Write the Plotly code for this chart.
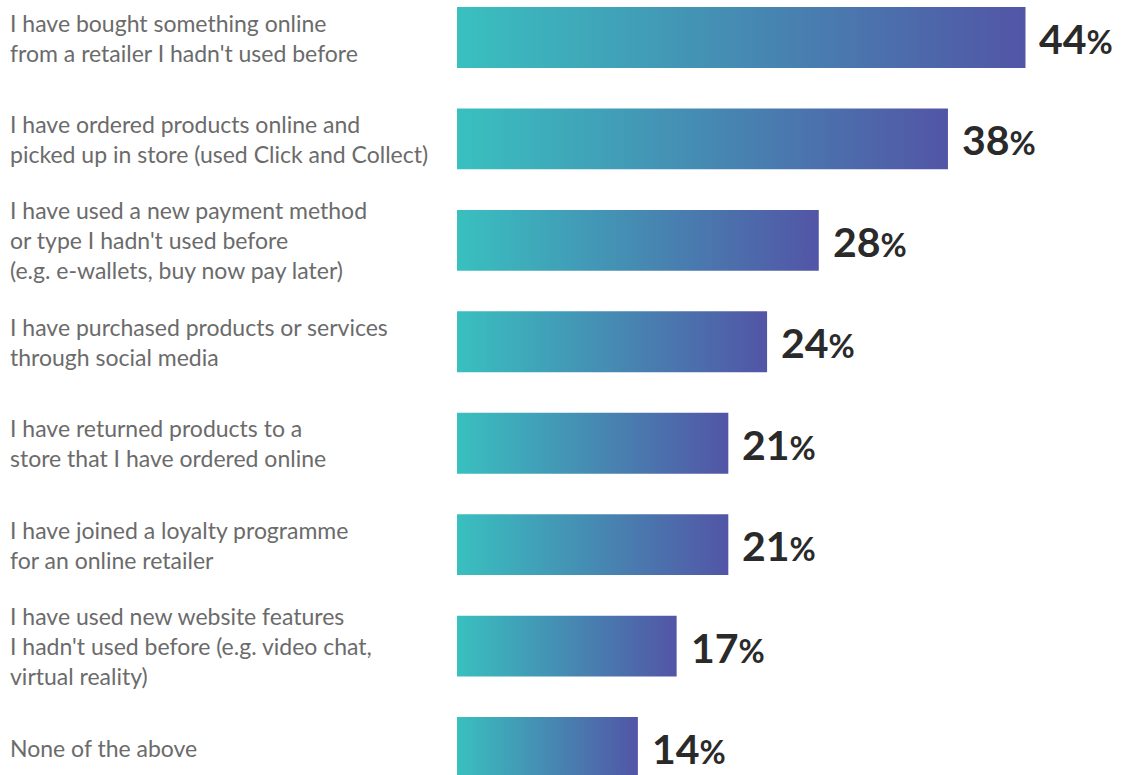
import plotly.graph_objects as go

categories = [
    "I have bought something online<br>from a retailer I hadn't used before",
    "I have ordered products online and<br>picked up in store (used Click and Collect)",
    "I have used a new payment method<br>or type I hadn't used before<br>(e.g. e-wallets, buy now pay later)",
    "I have purchased products or services<br>through social media",
    "I have returned products to a<br>store that I have ordered online",
    "I have joined a loyalty programme<br>for an online retailer",
    "I have used new website features<br>I hadn't used before (e.g. video chat,<br>virtual reality)",
    "None of the above",
]
values = [44, 38, 28, 24, 21, 21, 17, 14]

W, H = 1122, 775
ML = 457
PW = W - ML
PX_PER = 12.92
HALF = 0.30
C0, C1 = "#39c0bf", "#5255a6"

fig = go.Figure()
for i, v in enumerate(values):
    fig.add_trace(go.Scatter(
        x=[0, v, v, 0, 0],
        y=[i - HALF, i - HALF, i + HALF, i + HALF, i - HALF],
        mode="lines", line=dict(width=0), fill="toself",
        fillgradient=dict(type="horizontal", colorscale=[[0, C0], [1, C1]]),
        hoverinfo="skip", showlegend=False,
    ))
    fig.add_annotation(
        x=v, y=i, xref="x", yref="y", xanchor="left", yanchor="middle",
        xshift=12, yshift=-1, showarrow=False,
        text=f"<b>{v}</b><span style='font-size:32px'><b>%</b></span>",
        font=dict(family="Lato", size=41, color="#2a2a2a"),
    )
    fig.add_annotation(
        x=-(ML - 8) / PW, y=i, xref="paper", yref="y", xanchor="left",
        yanchor="middle", align="left", showarrow=False, text=categories[i],
        font=dict(family="Lato", size=23, color="#6b6b6b"),
    )

pitch = (747.5 - 37.5) / 7
fig.update_layout(
    width=W, height=H, margin=dict(l=ML, r=0, t=0, b=0),
    paper_bgcolor="white", plot_bgcolor="white",
    xaxis=dict(range=[0, PW / PX_PER], visible=False, fixedrange=True),
    yaxis=dict(range=[(H - 37.5) / pitch, -37.5 / pitch], visible=False, fixedrange=True),
)
fig.write_html("out.html")
